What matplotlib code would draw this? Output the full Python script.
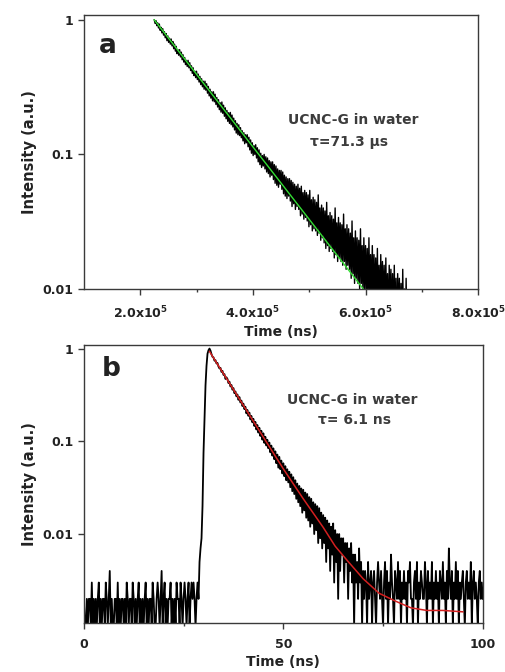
"""Two-panel decay figure: (a) UCNC-G in water, microsecond decay with green fit,
(b) UCNC-G in water, nanosecond decay with red fit. Log intensity axes."""
import matplotlib

matplotlib.use("Agg")
import matplotlib.pyplot as plt
from matplotlib.ticker import FixedLocator, FuncFormatter, NullLocator

plt.rcParams.update({
    "font.family": ["DejaVu Sans"],
    "font.weight": "bold",
    "mathtext.fontset": "custom",
    "mathtext.rm": "DejaVu Sans:bold",
    "mathtext.default": "rm",
})

# ---- panel a: time axis in ns, 1.5e3 ns bins starting at 2.25e5 ns ----
T0_A, DT_A = 2.25e5, 1.5e3
NORM_A = 1000.0  # peak-normalised counts
counts_a = [
    1000, 940, 985, 905, 950, 870, 930, 835, 880, 800,
    860, 770, 815, 735, 790, 700, 760, 680, 730, 660,
    720, 640, 690, 610, 660, 585, 635, 560, 600, 545,
    600, 530, 575, 505, 550, 485, 525, 465, 500, 450,
    500, 440, 480, 420, 455, 400, 440, 385, 415, 372,
    415, 360, 395, 345, 380, 330, 365, 318, 350, 305,
    350, 300, 335, 285, 320, 272, 305, 262, 292, 250,
    292, 246, 280, 235, 265, 225, 255, 215, 242, 206,
    245, 202, 232, 192, 222, 184, 212, 176, 204, 170,
    205, 166, 196, 160, 186, 152, 178, 144, 170, 140,
    166, 138, 158, 133, 150, 126, 145, 120, 140, 122,
    140, 114, 134, 108, 128, 102, 122, 98, 116, 100,
    118, 94, 112, 88, 108, 84, 102, 80, 98, 82,
    100, 78, 96, 74, 94, 72, 90, 68, 88, 70,
    88, 65, 84, 61, 82, 59, 78, 57, 76, 60,
    76, 55, 74, 51, 70, 49, 68, 47, 66, 49,
    66, 45, 64, 41, 62, 43, 60, 39, 58, 41,
    60, 39, 56, 35, 58, 36, 52, 33, 54, 34,
    52, 32, 50, 29, 54, 30, 46, 27, 48, 28,
    46, 27, 44, 25, 50, 26, 40, 23, 42, 24,
    40, 22, 38, 20, 44, 21, 35, 19, 37, 20,
    35, 19, 33, 17, 40, 18, 31, 16, 34, 17,
    31, 16, 30, 15, 36, 16, 28, 14, 30, 15,
    28, 14, 26, 12, 32, 13, 24, 11, 27, 12,
    24, 11, 23, 10, 28, 11, 21, 9, 24, 10,
    21, 9, 20, 8, 24, 9, 18, 8, 21, 9,
    18, 8, 17, 7, 20, 7, 15, 6, 18, 8,
    16, 7, 15, 6, 17, 6, 13, 5, 15, 7,
    14, 6, 13, 5, 15, 5, 12, 4, 13, 6,
    12, 5, 11, 4, 14, 5, 10, 4, 12, 5,
    9,
]
fit_a_t = [2.25e5, 5.96e5]
fit_a_y = [1.0, 0.01]

# ---- panel b: 0.25 ns bins from 0 to 100 ns ----
T0_B, DT_B = 0.0, 0.25
NORM_B = 1000.0
counts_b = [
    # baseline 0 - 28.75 ns
    2, 1, 1, 2, 1, 2, 2, 1, 3, 1,
    2, 1, 2, 1, 2, 3, 1, 2, 1, 2,
    2, 1, 3, 2, 1, 2, 4, 1, 2, 1,
    1, 2, 2, 1, 3, 1, 2, 1, 2, 2,
    1, 2, 1, 3, 2, 1, 2, 2, 1, 3,
    2, 1, 2, 1, 2, 3, 1, 2, 1, 2,
    1, 2, 3, 1, 2, 1, 2, 2, 1, 3,
    2, 1, 1, 2, 3, 2, 1, 2, 4, 1,
    2, 3, 1, 2, 1, 2, 2, 3, 1, 2,
    1, 2, 1, 3, 2, 2, 1, 3, 2, 1,
    2, 3, 2, 1, 2, 3, 1, 2, 3, 2,
    3, 2, 1, 2, 3, 2,
    # rise 29 - 31.75 ns
    5, 7, 9, 20, 75, 180, 400, 650, 880, 960, 1000, 950,
    # decay 32 - 70 ns
    870, 815, 805, 740, 750, 690, 700, 640,
    610, 620, 560, 575, 520, 530, 470, 490,
    470, 425, 440, 390, 405, 360, 375, 330,
    345, 305, 320, 280, 300, 262, 275, 240,
    255, 222, 236, 200, 218, 188, 204, 172,
    188, 160, 175, 146, 162, 134, 150, 124,
    140, 114, 130, 104, 122, 96, 112, 90,
    104, 84, 97, 76, 90, 70, 84, 64,
    78, 58, 72, 52, 68, 50, 62, 45,
    58, 42, 54, 38, 50, 36, 47, 32,
    44, 29, 41, 27, 38, 24, 35, 22,
    33, 20, 31, 17, 30, 18, 28, 15,
    27, 14, 25, 12, 24, 13, 22, 10,
    21, 11, 20, 8, 19, 9, 17, 7,
    16, 8, 15, 5, 14, 7, 13, 4,
    12, 6, 13, 3, 11, 5, 10, 2,
    10, 4, 9, 6, 9, 3, 8, 5,
    8, 2, 7, 4, 8, 3, 6, 1,
    6, 3, 5, 2, 7, 3, 5, 1,
    4,
    # tail 70.25 - 100 ns
    2, 4, 3, 1, 5, 2, 3, 4, 1, 3,
    4, 2, 1, 3, 5, 3, 2, 4, 2, 1,
    3, 5, 2, 4, 1, 3, 2, 6, 3, 2,
    1, 4, 3, 2, 5, 2, 4, 1, 3, 2,
    4, 2, 3, 1, 4, 3, 5, 2, 2, 1,
    3, 4, 2, 5, 1, 3, 2, 4, 3, 2,
    2, 5, 3, 1, 4, 2, 3, 2, 5, 1,
    3, 2, 4, 2, 3, 1, 4, 3, 2, 5,
    2, 3, 1, 4, 2, 7, 3, 2, 4, 1,
    3, 2, 5, 2, 4, 1, 3, 2, 3, 4,
    2, 1, 3, 4, 2, 3, 2, 5, 1, 3,
    4, 2, 3, 2, 1, 3, 4, 2, 3, 2,
]
fit_b_t = [31.5, 35, 40, 45, 50, 55, 60, 63, 66, 70, 74, 78, 82, 86, 90, 95]
fit_b_y = [0.93, 0.537, 0.244, 0.111, 0.0505, 0.024, 0.0118, 0.0074, 0.0052,
           0.0033, 0.0023, 0.0019, 0.0016, 0.0015, 0.0015, 0.00145]

ticks_a = [2e5, 4e5, 6e5, 8e5]
ticklabels_a = ["2.0x10$^{5}$", "4.0x10$^{5}$", "6.0x10$^{5}$", "8.0x10$^{5}$"]
minor_a = [3e5, 5e5, 7e5]
ticks_b = [0, 50, 100]
minor_b = [25, 75]
yticks = [0.01, 0.1, 1]

FRAME = "#3a3a3a"
TXT = "#3c3c3c"


def style(ax):
    ax.set_yscale("log")
    for s in ax.spines.values():
        s.set_color(FRAME)
        s.set_linewidth(1.0)
    ax.yaxis.set_major_locator(FixedLocator(yticks))
    ax.yaxis.set_minor_locator(NullLocator())
    ax.yaxis.set_major_formatter(FuncFormatter(lambda v, _: f"{v:g}"))
    ax.tick_params(which="both", direction="out", top=False, right=False,
                   color=FRAME, labelsize=9, labelcolor="#222222")
    ax.tick_params(which="major", length=4, width=1.0)
    ax.tick_params(which="minor", length=2.5, width=1.0)
    ax.tick_params(axis="x", which="major", pad=7)
    ax.set_ylabel("Intensity (a.u.)", fontsize=10.5, fontweight="bold",
                  labelpad=4, color="#222222")
    ax.set_xlabel("Time (ns)", fontsize=10, fontweight="bold", labelpad=3,
                  color="#222222")


fig = plt.figure(figsize=(5.05, 6.72), dpi=100)

# panel a
ax1 = fig.add_axes([0.166, 0.570, 0.781, 0.408])
t_a = [T0_A + i * DT_A for i in range(len(counts_a))]
y_a = [c / NORM_A for c in counts_a]
ax1.plot(t_a, y_a, color="black", lw=1.0)
ax1.plot(fit_a_t, fit_a_y, color="#33dd33", lw=1.0)
style(ax1)
ax1.set_xlim(1.0e5, 8.0e5)
ax1.set_ylim(0.01, 1.09)
ax1.xaxis.set_major_locator(FixedLocator(ticks_a))
ax1.set_xticklabels(ticklabels_a)
ax1.xaxis.set_minor_locator(FixedLocator(minor_a))
ax1.text(0.06, 0.885, "a", transform=ax1.transAxes, fontsize=19,
         fontweight="bold", ha="center", va="center", color="#222222")
ax1.text(0.683, 0.617, "UCNC-G in water", transform=ax1.transAxes,
         fontsize=10, color=TXT, ha="center", va="center")
ax1.text(0.672, 0.536, "τ=71.3 μs", transform=ax1.transAxes,
         fontsize=10, color=TXT, ha="center", va="center")

# panel b
ax2 = fig.add_axes([0.166, 0.073, 0.790, 0.414])
t_b = [T0_B + i * DT_B for i in range(len(counts_b))]
y_b = [c / NORM_B for c in counts_b]
ax2.plot(t_b, y_b, color="black", lw=1.3)
ax2.plot(fit_b_t, fit_b_y, color="#d42020", lw=1.1)
style(ax2)
ax2.set_xlim(0, 100)
ax2.set_ylim(0.0011, 1.1)
ax2.xaxis.set_major_locator(FixedLocator(ticks_b))
ax2.xaxis.set_minor_locator(FixedLocator(minor_b))
ax2.text(0.068, 0.912, "b", transform=ax2.transAxes, fontsize=19,
         fontweight="bold", ha="center", va="center", color="#222222")
ax2.text(0.674, 0.80, "UCNC-G in water", transform=ax2.transAxes,
         fontsize=10, color=TXT, ha="center", va="center")
ax2.text(0.678, 0.73, "τ= 6.1 ns", transform=ax2.transAxes,
         fontsize=10, color=TXT, ha="center", va="center")

fig.savefig("out.png", dpi=100)
